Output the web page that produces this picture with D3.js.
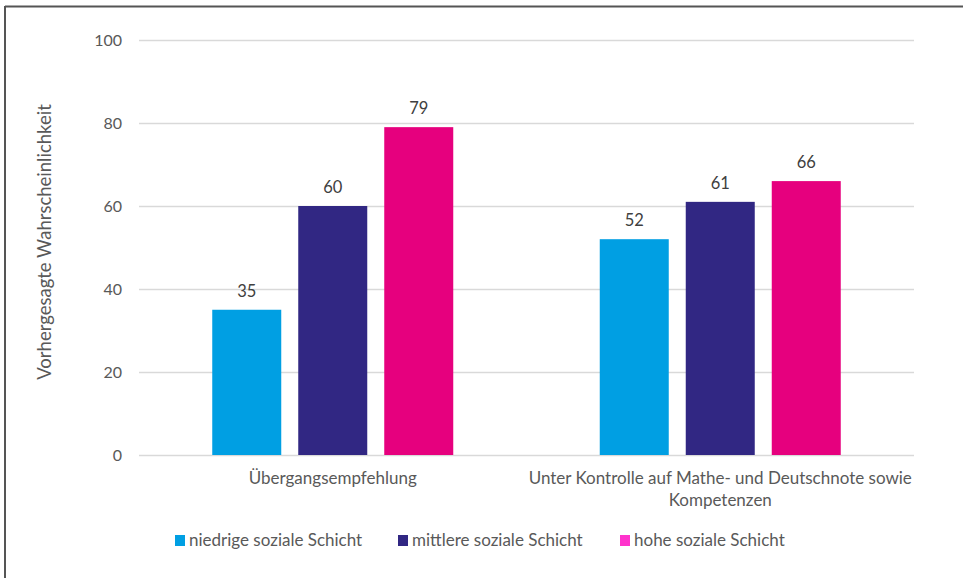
<!DOCTYPE html>
<html><head><meta charset="utf-8">
<script src="https://cdn.jsdelivr.net/npm/d3@7"></script>
<style>
html,body{margin:0;padding:0;background:#fff;}
svg{display:block;font-family:Lato,"Open Sans",sans-serif;}
</style></head>
<body>
<svg id="chart" width="963" height="578"></svg>
<script>
const categories = ["Übergangsempfehlung", "Unter Kontrolle auf Mathe- und Deutschnote sowie|Kompetenzen"];
const seriesNames = ["niedrige soziale Schicht", "mittlere soziale Schicht", "hohe soziale Schicht"];
const niedrig = [35, 52];
const mittlere = [60, 61];
const hohe = [79, 66];
const yTicks = [0, 20, 40, 60, 80, 100];
const yTitle = "Vorhergesagte Wahrscheinlichkeit";

(function(){
const colors = ["#009FE3", "#312783", "#E6007E"];
const legendColors = ["#009FE3", "#312783", "#FF33CC"];
const series = [niedrig, mittlere, hohe];

const svg = d3.select("#chart");
const mLeft = 139, mRight = 914, mTop = 40, mBottom = 455;

svg.append("line").attr("x1",5).attr("x2",963).attr("y1",6.5).attr("y2",6.5).attr("stroke","#555").attr("stroke-width",2);
svg.append("line").attr("x1",5).attr("x2",5).attr("y1",6).attr("y2",578).attr("stroke","#555").attr("stroke-width",2);

const y = d3.scaleLinear().domain([0,100]).range([mBottom, mTop]);
const x0 = d3.scaleBand().domain(categories).range([mLeft, mRight]);
const x1 = d3.scaleBand().domain(d3.range(3)).range([0, 241]).paddingInner(17/86).paddingOuter(0);

svg.append("g").selectAll("line").data(yTicks).join("line")
  .attr("x1", mLeft).attr("x2", mRight)
  .attr("y1", d => Math.round(y(d))+0.5).attr("y2", d => Math.round(y(d))+0.5)
  .attr("stroke", "#d9d9d9").attr("stroke-width", 1.5);

svg.append("g").selectAll("text").data(yTicks).join("text")
  .attr("x", 122).attr("y", d => y(d)).attr("dy","0.35em")
  .attr("text-anchor","end").attr("font-size",16).attr("fill","#595959")
  .text(d => d);

svg.append("text").attr("transform","translate(45,242) rotate(-90)")
  .attr("dy","0.35em")
  .attr("text-anchor","middle").attr("font-size",18.5).attr("fill","#595959").text(yTitle);

categories.forEach((c, ci) => {
  const gx = x0(c) + (x0.bandwidth() - 241)/2;
  series.forEach((s, si) => {
    const bx = gx + x1(si);
    svg.append("rect").attr("x", bx).attr("y", y(s[ci]))
      .attr("width", x1.bandwidth()).attr("height", y(0) - y(s[ci]))
      .attr("fill", colors[si]);
    svg.append("text").attr("x", bx + x1.bandwidth()/2).attr("y", y(s[ci]) - 13)
      .attr("text-anchor","middle").attr("font-size",16.5).attr("fill","#404040").text(s[ci]);
  });
  const lines = c.split("|");
  lines.forEach((t, li) => {
    svg.append("text").attr("x", x0(c) + x0.bandwidth()/2).attr("y", 484 + li*22)
      .attr("text-anchor","middle").attr("font-size",17).attr("fill","#595959").text(t);
  });
});

const legX = [175, 398, 620];
seriesNames.forEach((n, i) => {
  svg.append("rect").attr("x", legX[i]).attr("y", 535).attr("width",10).attr("height",11).attr("fill", legendColors[i]);
  svg.append("text").attr("x", legX[i]+14).attr("y", 540).attr("dy","0.35em")
    .attr("font-size",17).attr("fill","#595959").text(n);
});
})();
</script>
</body></html>
